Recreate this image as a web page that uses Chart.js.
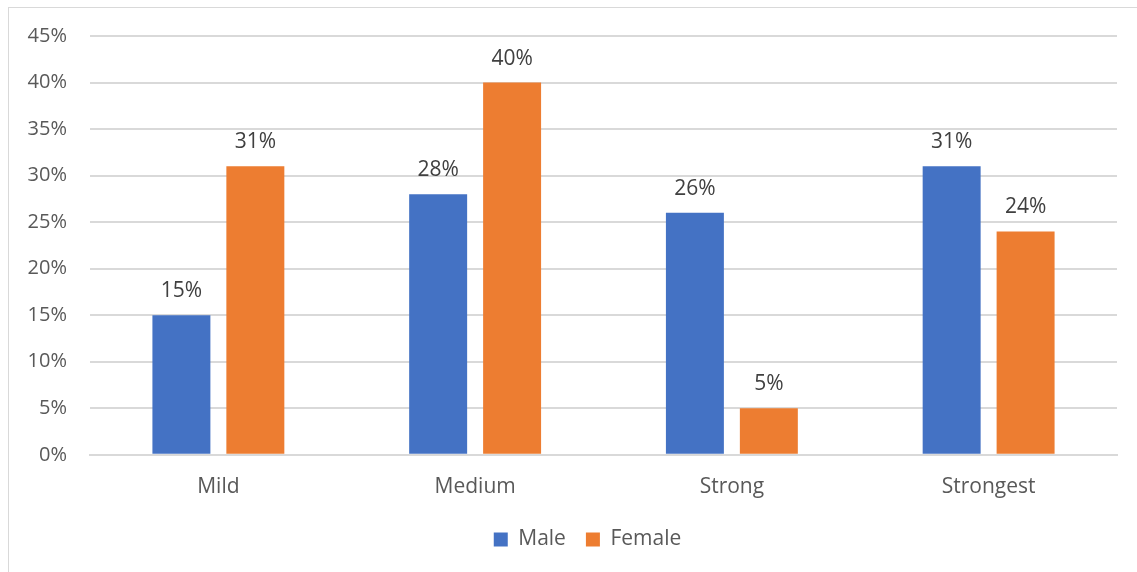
<!DOCTYPE html>
<html>
<head>
<meta charset="utf-8">
<script src="https://cdn.jsdelivr.net/npm/chart.js@4"></script>
<style>
  html, body { margin: 0; padding: 0; background: #fff; }
  #wrap { width: 1137px; height: 572px; }
</style>
</head>
<body>
<div id="wrap"><canvas id="myChart" width="1137" height="572"></canvas></div>
<script>
const categories = ['Mild', 'Medium', 'Strong', 'Strongest'];
const male = [15, 28, 26, 31];
const female = [31, 40, 5, 24];
const yTicks = [0, 5, 10, 15, 20, 25, 30, 35, 40, 45];

const FONT = "'Open Sans', sans-serif";

// valeurs au-dessus des barres
const barLabels = {
    id: 'barLabels',
    afterDatasetsDraw(chart) {
        const ctx = chart.ctx;
        ctx.save();
        ctx.font = '21px ' + FONT;
        ctx.fillStyle = '#404040';
        ctx.textAlign = 'center';
        ctx.textBaseline = 'alphabetic';
        chart.data.datasets.forEach((ds, i) => {
            chart.getDatasetMeta(i).data.forEach((bar, j) => {
                ctx.fillText(ds.data[j] + '%', bar.x, bar.y - 18);
            });
        });
        ctx.restore();
    }
};

// cadre gris autour du graphique
const frame = {
    id: 'frame',
    beforeDraw(chart) {
        const ctx = chart.ctx;
        ctx.save();
        ctx.strokeStyle = '#D9D9D9';
        ctx.lineWidth = 1;
        ctx.strokeRect(8.5, 7.5, 1400, 800);
        ctx.restore();
    }
};

// décaler la légende comme dans Excel
const legendShift = {
    id: 'legendShift',
    afterLayout(chart) {
        const lg = chart.legend;
        lg.left += 25; lg.right += 25;
        lg.top -= 3; lg.bottom -= 3;
    }
};

const ctx = document.getElementById('myChart').getContext('2d');
new Chart(ctx, {
    type: 'bar',
    data: {
        labels: categories,
        datasets: [
            {
                label: 'Male',
                data: male,
                backgroundColor: '#4472C4',
                barPercentage: 0.784,
                categoryPercentage: 0.576
            },
            {
                label: 'Female',
                data: female,
                backgroundColor: '#ED7D31',
                barPercentage: 0.784,
                categoryPercentage: 0.576
            }
        ]
    },
    options: {
        responsive: false,
        animation: false,
        layout: {
            padding: { left: 8, right: 20, top: 36, bottom: 9 }
        },
        plugins: {
            legend: {
                position: 'bottom',
                labels: {
                    boxWidth: 14,
                    boxHeight: 14,
                    padding: 20,
                    color: '#595959',
                    font: { family: FONT, size: 21 }
                }
            },
            tooltip: { enabled: false }
        },
        scales: {
            x: {
                grid: { display: false },
                border: { color: '#D9D9D9', width: 2 },
                ticks: {
                    color: '#595959',
                    padding: 12,
                    font: { family: FONT, size: 21 }
                }
            },
            y: {
                min: 0,
                max: 45,
                afterFit(scale) { scale.width = 82; },
                afterBuildTicks(scale) {
                    scale.ticks = yTicks.map(v => ({ value: v }));
                },
                grid: { color: '#D9D9D9', lineWidth: 2, drawTicks: false },
                border: { display: false },
                ticks: {
                    color: '#595959',
                    padding: 23,
                    font: { family: FONT, size: 20 },
                    callback: function(value) {
                        return value + '%';
                    }
                }
            }
        }
    },
    plugins: [frame, legendShift, barLabels]
});
</script>
</body>
</html>
